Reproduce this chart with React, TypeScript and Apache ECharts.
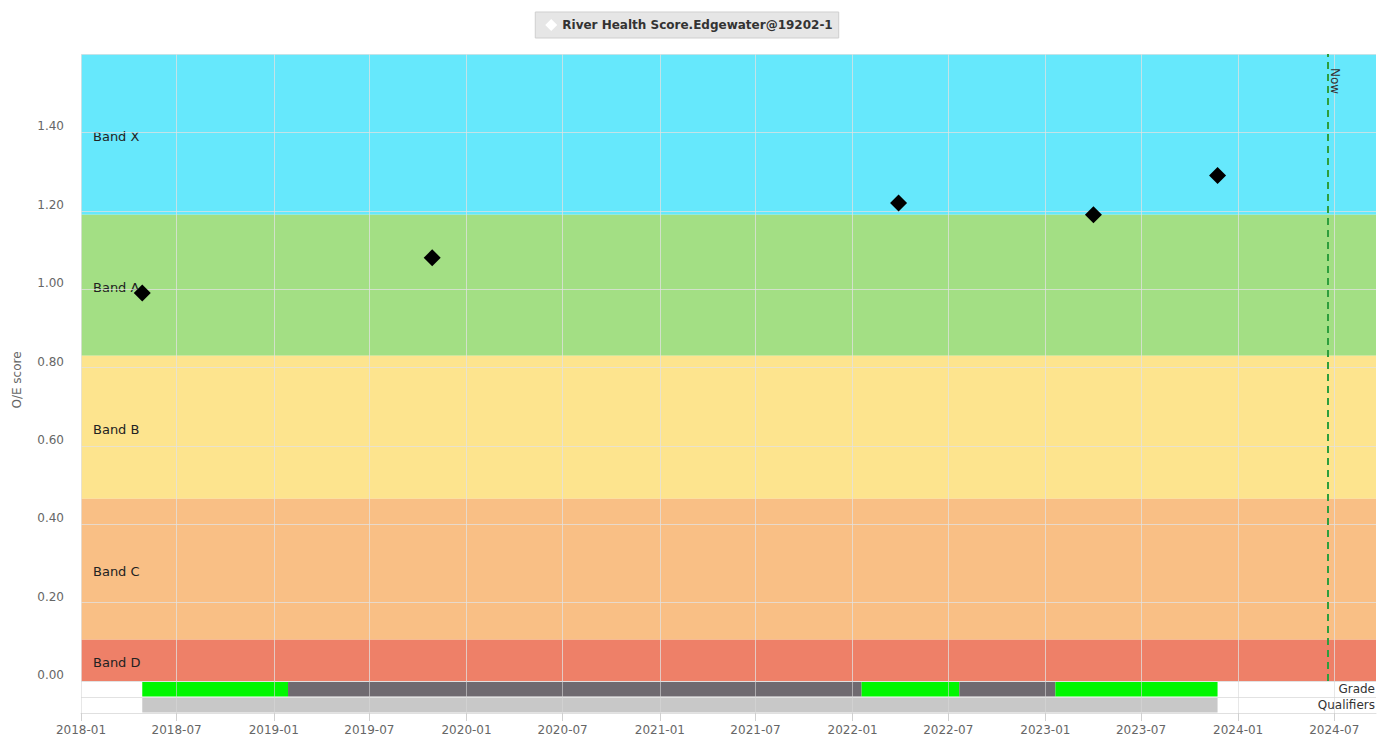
import React, { useEffect, useRef } from "react";
import * as echarts from "echarts";

// ---- data ----
const seriesName = "River Health Score.Edgewater@19202-1";
const sampleDates = ["2018-04-27", "2019-10-28", "2022-03-29", "2023-04-02", "2023-11-23"];
const scores = [0.99, 1.08, 1.22, 1.19, 1.29];

const bandNames = ["Band X", "Band A", "Band B", "Band C", "Band D"];
const bandLower = [1.19, 0.83, 0.465, 0.105, 0];
const bandUpper = [1.6, 1.19, 0.83, 0.465, 0.105];
const bandColors = ["#66e8fc", "#a3df84", "#fde48e", "#f9bf85", "#ee8068"];

const gradeStarts = ["2018-04-27", "2019-01-28", "2022-01-18", "2022-07-22", "2023-01-20"];
const gradeEnds = ["2019-01-28", "2022-01-18", "2022-07-22", "2023-01-20", "2023-11-23"];
const gradeKinds = ["good", "none", "good", "none", "good"];
const qualifierStarts = ["2018-04-27"];
const qualifierEnds = ["2023-11-23"];
const stripRows = ["Qualifiers", "Grade"];

const xTickLabels = [
  "2018-01", "2018-07", "2019-01", "2019-07", "2020-01", "2020-07", "2021-01",
  "2021-07", "2022-01", "2022-07", "2023-01", "2023-07", "2024-01", "2024-07",
];
const xMin = "2018-01-01";
const xMax = "2024-09-18";
const nowDate = "2024-06-18";

const FONT = "'Lucida Grande','DejaVu Sans',sans-serif";

export default function App() {
  const ref = useRef<HTMLDivElement>(null);
  useEffect(() => {
    if (!ref.current) return;
    const chart = echarts.init(ref.current, null, { renderer: "svg" });
    const P = (s: string) => echarts.time.parse(s).getTime();
    const tickValues = xTickLabels.map((t) => P(t + "-01"));
    const gradeColor: Record<string, string> = { good: "#00f700", none: "#6f6a70" };

    const stripData: any[] = [];
    gradeStarts.forEach((s, i) => {
      stripData.push({ value: [P(s), P(gradeEnds[i]), 1], itemStyle: { color: gradeColor[gradeKinds[i]] } });
    });
    qualifierStarts.forEach((s, i) => {
      stripData.push({ value: [P(s), P(qualifierEnds[i]), 0], itemStyle: { color: "#c8c8c8" } });
    });

    const gridColor = "rgba(225,225,225,0.75)";
    const fmt = (v: number) => echarts.time.format(v, "{yyyy}-{MM}", false);

    chart.setOption({
      animation: false,
      textStyle: { fontFamily: FONT },
      legend: {
        show: true,
        top: 12,
        left: "center",
        backgroundColor: "#e6e6e6",
        borderColor: "#cfcfcf",
        borderWidth: 1,
        padding: [7, 6, 7, 10],
        icon: "diamond",
        itemWidth: 12,
        itemHeight: 12,
        itemGap: 8,
        itemStyle: { color: "#ffffff", borderWidth: 0 },
        textStyle: { fontFamily: FONT, fontSize: 12, fontWeight: "bold", color: "#333" },
        data: [seriesName],
      },
      graphic: [
        {
          type: "text",
          x: 17,
          y: 380,
          rotation: Math.PI / 2,
          style: { text: "O/E score", fill: "#666", font: `12px ${FONT}`, align: "center", verticalAlign: "middle" },
        },
      ],
      grid: [
        { left: 81, top: 54, width: 1295, height: 627, containLabel: false },
        { left: 81, top: 681, width: 1295, height: 32, containLabel: false },
      ],
      xAxis: [
        {
          type: "value",
          gridIndex: 0,
          min: P(xMin),
          max: P(xMax),
          z: 2,
          axisLine: { show: false },
          axisTick: { show: false, customValues: tickValues },
          axisLabel: { show: false, customValues: tickValues, formatter: fmt },
          splitLine: { show: true, lineStyle: { color: gridColor, width: 1 } },
        },
        {
          type: "value",
          gridIndex: 1,
          min: P(xMin),
          max: P(xMax),
          z: 2,
          axisLine: { show: true, lineStyle: { color: "#e0e0e0" } },
          axisTick: { show: true, length: 8, customValues: tickValues, lineStyle: { color: "#d0d0d0" } },
          axisLabel: {
            show: true,
            customValues: tickValues,
            margin: 11,
            color: "#666",
            fontSize: 12,
            fontFamily: FONT,
            formatter: fmt,
          },
          splitLine: { show: true, lineStyle: { color: "rgba(215,215,215,0.6)", width: 1 } },
        },
      ],
      yAxis: [
        {
          type: "value",
          gridIndex: 0,
          min: 0,
          max: 1.6,
          interval: 0.2,
          z: 2,
          axisLine: { show: false },
          axisTick: { show: false },
          axisLabel: {
            color: "#666",
            fontSize: 12,
            fontFamily: FONT,
            margin: 17,
            verticalAlign: "bottom",
            showMaxLabel: false,
            formatter: (v: number) => v.toFixed(2),
          },
          splitLine: { show: true, lineStyle: { color: gridColor, width: 1 } },
        },
        {
          type: "category",
          gridIndex: 1,
          position: "right",
          data: stripRows,
          z: 2,
          axisLine: { show: false },
          axisTick: { show: false },
          axisLabel: { inside: true, margin: 1, color: "#333", fontSize: 12, fontFamily: FONT },
          splitLine: { show: true, lineStyle: { color: "#e2e2e2" } },
        },
      ],
      series: [
        {
          name: "bands",
          type: "line",
          xAxisIndex: 0,
          yAxisIndex: 0,
          data: [],
          z: 1,
          silent: true,
          markArea: {
            silent: true,
            z: 1,
            data: bandNames.map((n, i) => [
              {
                name: n,
                yAxis: bandUpper[i],
                itemStyle: { color: bandColors[i], opacity: 1 },
                label: {
                  show: true,
                  position: "insideLeft",
                  distance: 12,
                  offset: [0, 2],
                  color: "#222",
                  fontSize: 13,
                  fontFamily: FONT,
                },
              },
              { yAxis: bandLower[i] },
            ]),
          },
          markLine: {
            silent: true,
            symbol: "none",
            z: 5,
            lineStyle: { color: "#2e9e3c", type: [7, 5], width: 2 },
            label: { show: false },
            data: [{ xAxis: P(nowDate) }],
          },
          markPoint: {
            silent: true,
            symbol: "circle",
            symbolSize: 0,
            data: [{ coord: [P(nowDate), 1.6] }],
            label: {
              show: true,
              formatter: "Now",
              rotate: -90,
              position: "inside",
              offset: [27, -8],
              color: "#333",
              fontSize: 12,
              fontFamily: FONT,
            },
          },
        },
        {
          name: seriesName,
          type: "scatter",
          xAxisIndex: 0,
          yAxisIndex: 0,
          z: 3,
          symbol: "diamond",
          symbolSize: 17,
          itemStyle: { color: "#000", opacity: 1 },
          data: sampleDates.map((d, i) => [P(d), scores[i]]),
        },
        {
          name: "strips",
          type: "custom",
          xAxisIndex: 1,
          yAxisIndex: 1,
          z: 1,
          silent: true,
          encode: { x: [0, 1], y: 2 },
          renderItem: (params: any, api: any) => {
            const s = api.coord([api.value(0), api.value(2)]);
            const e = api.coord([api.value(1), api.value(2)]);
            const h = api.size([0, 1])[1];
            return {
              type: "rect",
              shape: { x: s[0], y: s[1] - h / 2 + 0.5, width: e[0] - s[0], height: h - 1 },
              style: { fill: api.visual("color") },
            };
          },
          data: stripData,
        },
      ],
    });
    return () => chart.dispose();
  }, []);
  return (
    <div
      ref={ref}
      style={{ position: "fixed", left: 0, top: 0, width: 1378, height: 738, background: "#fff" }}
    />
  );
}
